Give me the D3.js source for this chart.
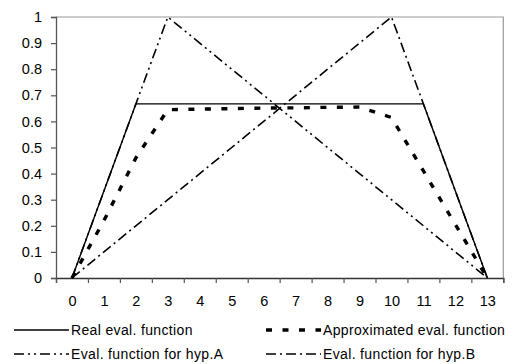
<!DOCTYPE html>
<html><head><meta charset="utf-8">
<script src="https://cdn.jsdelivr.net/npm/d3@7"></script>
<style>
body{margin:0;background:#fff;}
svg{display:block;font-family:"Liberation Sans",Arial,sans-serif;}
</style></head>
<body><svg id="c" width="514" height="364"></svg>
<script>
const categories = [0,1,2,3,4,5,6,7,8,9,10,11,12,13];
const realEval   = [0,0.333,0.667,0.667,0.667,0.667,0.667,0.667,0.667,0.667,0.667,0.667,0.333,0];
const approxEval = [0,0.22,0.46,0.645,0.647,0.649,0.651,0.652,0.654,0.655,0.615,0.41,0.205,0];
const hypA       = [0,0.333,0.667,1,0.9,0.8,0.7,0.6,0.5,0.4,0.3,0.2,0.1,0];
const hypB       = [0,0.1,0.2,0.3,0.4,0.5,0.6,0.7,0.8,0.9,1,0.667,0.333,0];
const yTicks = [0,0.1,0.2,0.3,0.4,0.5,0.6,0.7,0.8,0.9,1];
const seriesNames = ["Real eval. function","Approximated eval. function","Eval. function for hyp.A","Eval. function for hyp.B"];

const svg = d3.select("#c");
const x = d3.scaleLinear().domain([-0.5,13.5]).range([56,503.3]);
const y = d3.scaleLinear().domain([0,1]).range([278,17]);
const fsTick = "14.5px";
const fsLeg = "14px";

// plot border (top/right)
svg.append("path").attr("d",`M${x(-0.5)},${y(1)}H${x(13.5)}V${y(0)}`)
  .attr("fill","none").attr("stroke","#999").attr("stroke-width",1.2);

// y axis
const ya = svg.append("g").attr("transform",`translate(${x(-0.5)},0)`)
  .call(d3.axisLeft(y).tickValues(yTicks).tickSize(5).tickPadding(9)
     .tickFormat(d=> d===0?"0":d===1?"1":d3.format(".1f")(d)));
ya.select(".domain").attr("stroke","#555").attr("stroke-width",1.3);
ya.selectAll(".tick line").attr("stroke","#555").attr("stroke-width",1.2);
ya.selectAll("text").attr("font-size",fsTick).attr("font-family","Liberation Sans, Arial").attr("fill","#000");

// x axis ticks at category boundaries
const bounds = d3.range(-0.5,14,1);
const xa = svg.append("g").attr("transform",`translate(0,${y(0)})`)
  .call(d3.axisBottom(x).tickValues(bounds).tickSize(5).tickFormat(""));
xa.select(".domain").attr("stroke","#333").attr("stroke-width",1.3);
xa.selectAll(".tick line").attr("stroke","#555").attr("stroke-width",1.2);
const xl = svg.append("g").attr("transform",`translate(0,${y(0)})`)
  .call(d3.axisBottom(x).tickValues(categories).tickSize(0).tickPadding(18).tickFormat(d3.format("d")));
xl.select(".domain").remove();
xl.selectAll("text").attr("font-size",fsTick).attr("font-family","Liberation Sans, Arial").attr("fill","#000");

const styles = [
  {data:realEval, w:1.4, dash:null},
  {data:approxEval, w:3.4, dash:"6,10.5"},
  {data:hypA, w:1.6, dash:"10,4,2,4,2,4"},
  {data:hypB, w:1.6, dash:"10,4,2,4"}
];
const line = d3.line().x((d,i)=>x(categories[i])).y(d=>y(d));
[3,2,1,0].forEach(k=>{
  const s = styles[k];
  svg.append("path").attr("d",line(s.data)).attr("fill","none")
    .attr("stroke","#000").attr("stroke-width",s.w)
    .attr("stroke-dasharray",s.dash);
});

// legend
const legPos = [[14,330],[266,330],[14,354],[266,354]];
seriesNames.forEach((n,k)=>{
  const [lx,ly] = legPos[k];
  const s = styles[k];
  svg.append("line").attr("x1",lx).attr("x2",lx+55).attr("y1",ly).attr("y2",ly)
    .attr("stroke","#000").attr("stroke-width",s.w).attr("stroke-dasharray",s.dash);
  svg.append("text").attr("x",lx+57).attr("y",ly+5).attr("font-size",fsLeg)
    .attr("letter-spacing","0.35px").text(n);
});
</script></body></html>
